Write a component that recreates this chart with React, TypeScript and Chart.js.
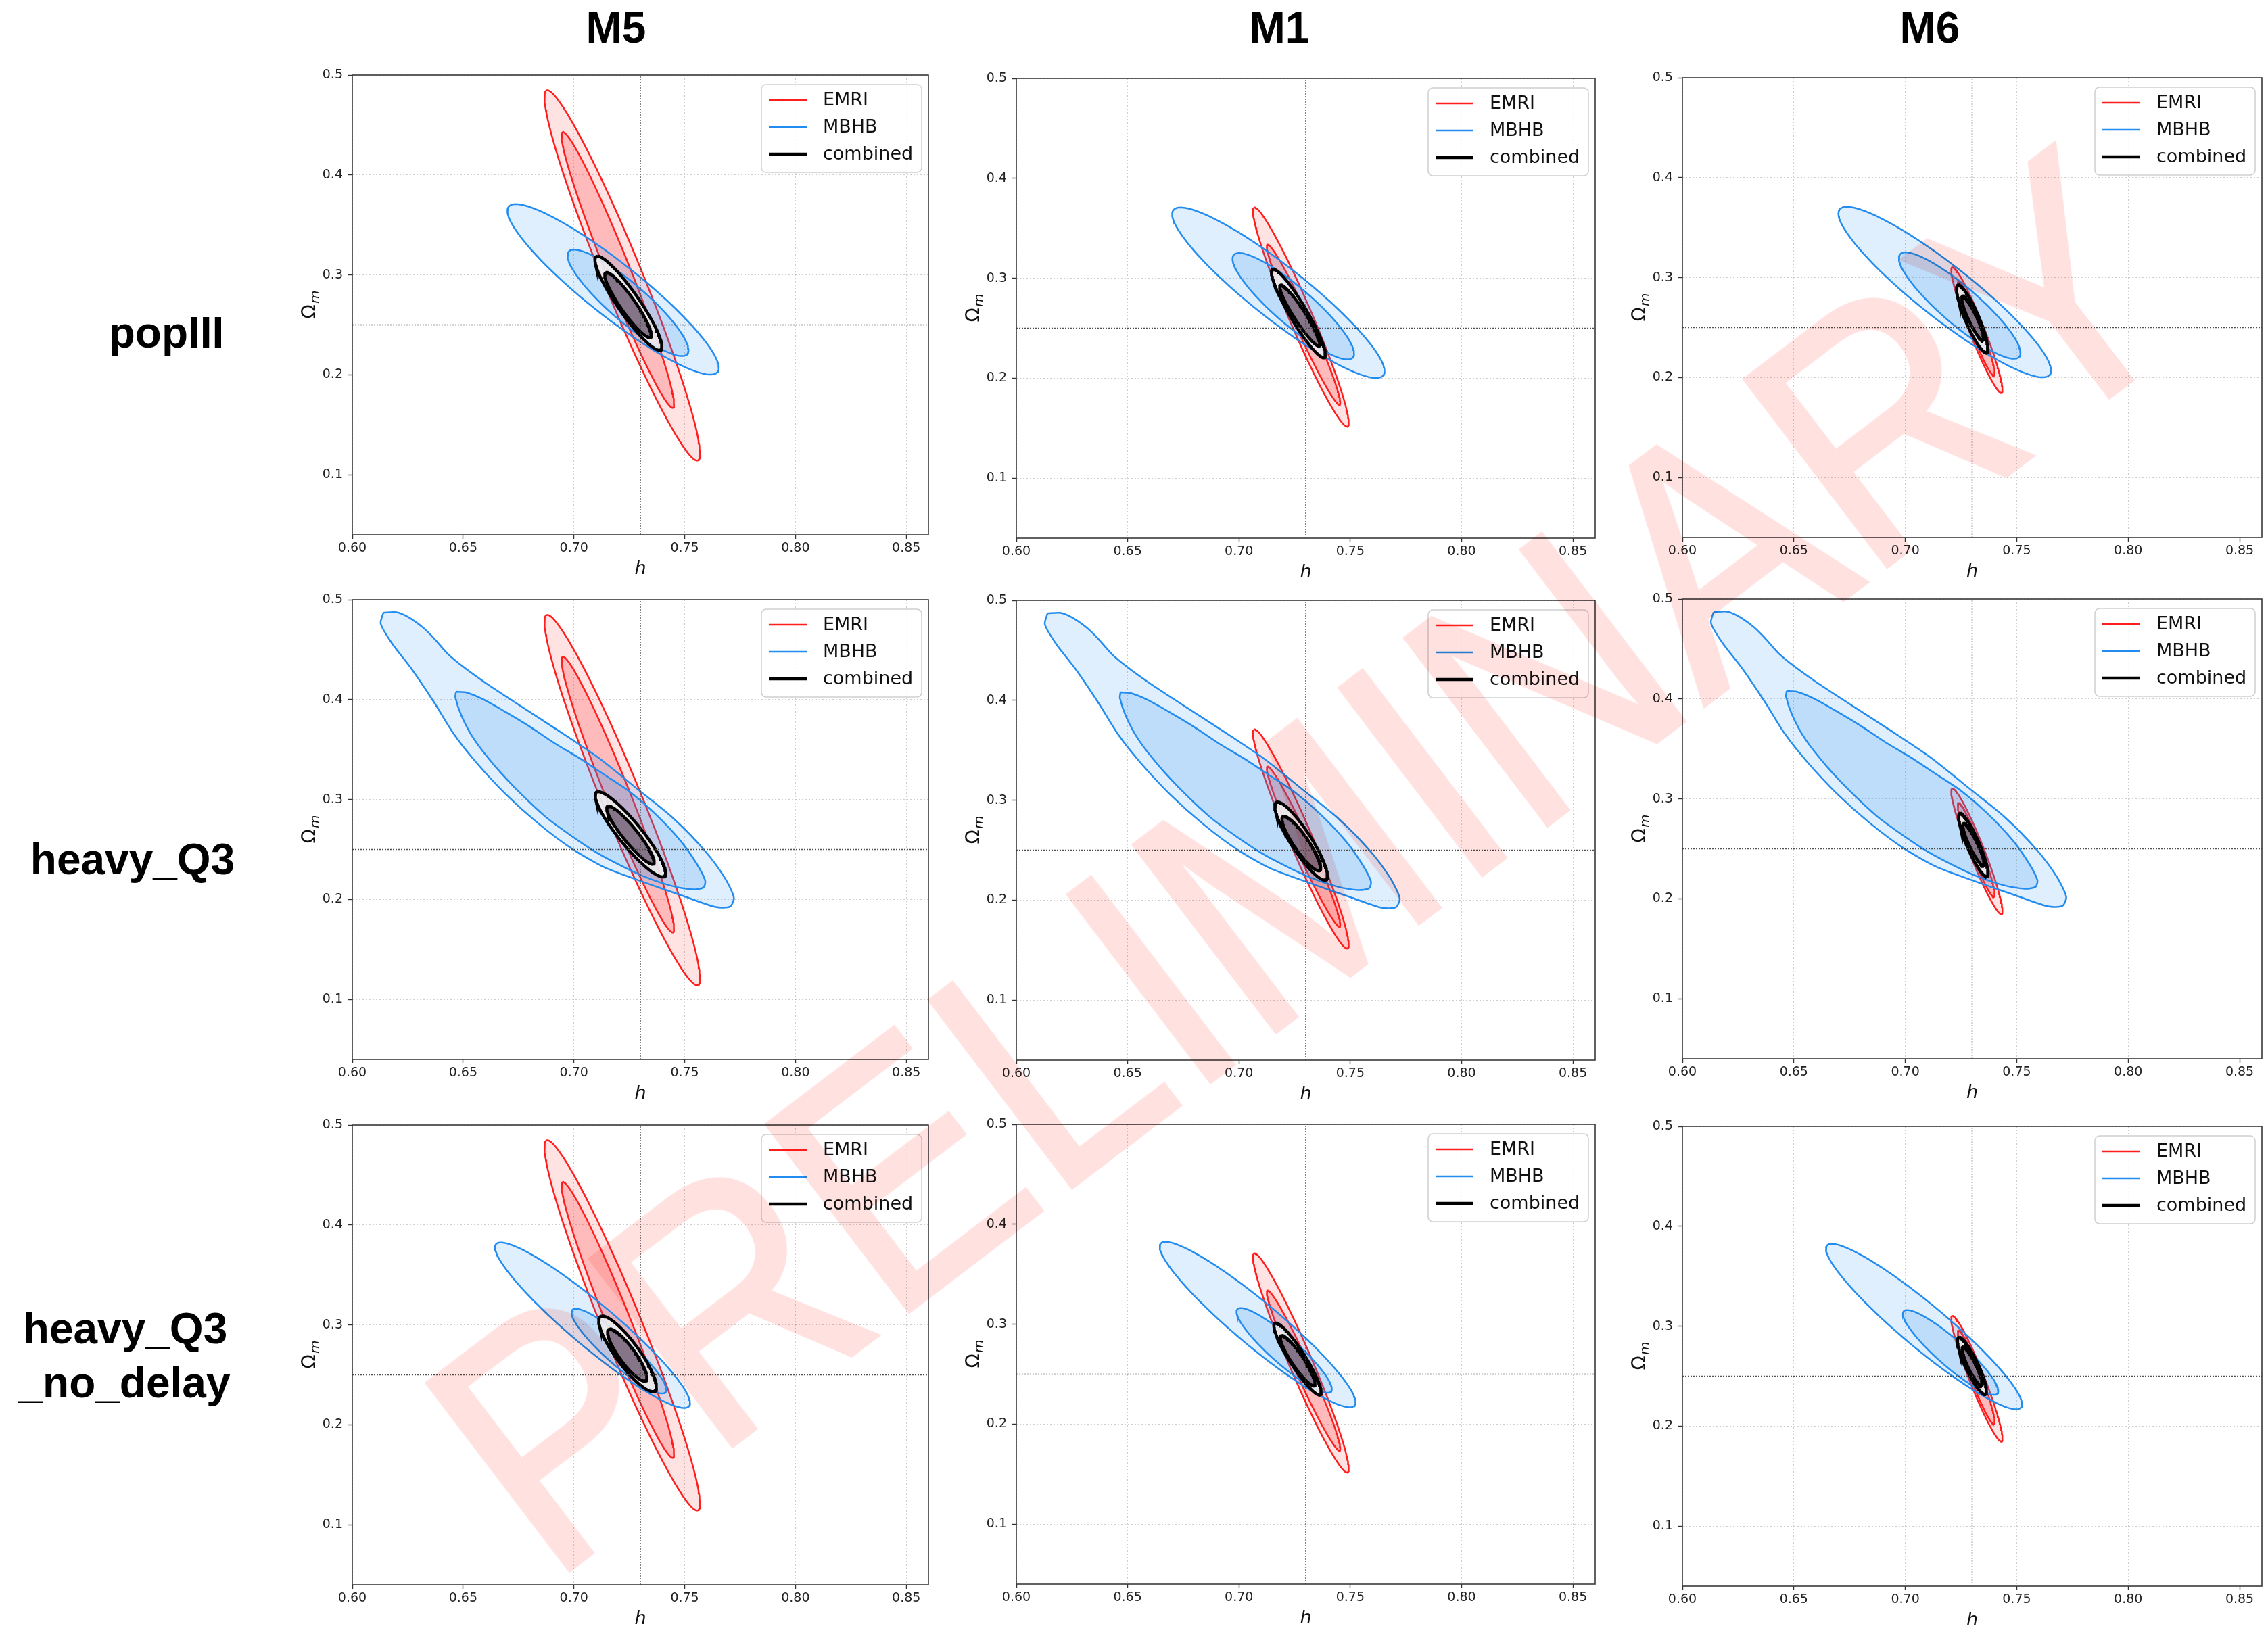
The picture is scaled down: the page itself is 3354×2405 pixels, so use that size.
import React, { useEffect, useRef } from "react";
import { Chart, registerables } from "chart.js";

Chart.register(...registerables);
Chart.defaults.font.family = '"DejaVu Sans", sans-serif';

// ---------- texts ----------
const COLUMN_TITLES = ["M5", "M1", "M6"];
const ROW_TITLES = [["popIII"], ["heavy_Q3"], ["heavy_Q3", "_no_delay"]];
const LEGEND_LABELS = ["EMRI", "MBHB", "combined"];
const X_TITLE = "h";
const Y_TITLE_MAIN = "Ω";
const Y_TITLE_SUB = "m";
const WATERMARK = "PRELIMINARY";

// ---------- axes ----------
const H_TICKS = [0.6, 0.65, 0.7, 0.75, 0.8, 0.85];
const OM_TICKS = [0.1, 0.2, 0.3, 0.4, 0.5];
const H_MIN = 0.6;
const H_MAX = 0.86;
const OM_MIN = 0.04;
const OM_MAX = 0.5;
const H_FIDUCIAL = 0.73;
const OM_FIDUCIAL = 0.25;

// ---------- contours ----------
// ellipse contour: [h centre, Ωm centre, h half-extent, Ωm half-extent, correlation]
// EMRI contours by column model (M5, M1, M6)
const EMRI_OUTER = [
  [0.7218, 0.2995, 0.0351, 0.1853, -0.962],
  [0.7278, 0.2612, 0.0215, 0.1096, -0.965],
  [0.7321, 0.2476, 0.0115, 0.0629, -0.95],
];
const EMRI_INNER = [
  [0.7198, 0.305, 0.0254, 0.1379, -0.973],
  [0.729, 0.2536, 0.0165, 0.0801, -0.975],
  [0.7318, 0.249, 0.0083, 0.047, -0.95],
];

// MBHB contours by row model
const MBHB_POPIII_OUTER = [0.7177, 0.2856, 0.0477, 0.0853, -0.92];
const MBHB_POPIII_INNER = [0.7244, 0.2721, 0.0273, 0.0532, -0.89];
const MBHB_NODELAY_OUTER = [0.7084, 0.2997, 0.044, 0.0828, -0.94];
const MBHB_NODELAY_INNER = [0.7203, 0.2738, 0.0214, 0.0424, -0.91];
// heavy_Q3 MBHB contours are banana shaped: vertices
const MBHB_Q3_OUTER_H = [0.614, 0.62, 0.6256, 0.632, 0.637, 0.643, 0.65, 0.66, 0.675, 0.693, 0.711, 0.729, 0.745, 0.759, 0.768, 0.7722, 0.7705, 0.764, 0.75, 0.732, 0.714, 0.699, 0.684, 0.669, 0.656, 0.646, 0.637, 0.627, 0.618, 0.6128];
const MBHB_Q3_OUTER_OM = [0.487, 0.4875, 0.4822, 0.472, 0.461, 0.446, 0.433, 0.417, 0.395, 0.369, 0.342, 0.31, 0.281, 0.249, 0.222, 0.202, 0.193, 0.1925, 0.203, 0.217, 0.232, 0.251, 0.276, 0.306, 0.337, 0.365, 0.397, 0.43, 0.456, 0.476];
const MBHB_Q3_INNER_H = [0.6468, 0.6512, 0.6588, 0.6683, 0.6797, 0.691, 0.7024, 0.7138, 0.7252, 0.7366, 0.748, 0.7555, 0.7593, 0.7584, 0.7536, 0.7442, 0.7328, 0.7214, 0.71, 0.6986, 0.6873, 0.6759, 0.6645, 0.655, 0.6493, 0.6465];
const MBHB_Q3_INNER_OM = [0.408, 0.4073, 0.4006, 0.3888, 0.3736, 0.3568, 0.3416, 0.3248, 0.3079, 0.286, 0.2591, 0.2355, 0.2186, 0.2119, 0.2102, 0.2136, 0.222, 0.2338, 0.2473, 0.2641, 0.2826, 0.3062, 0.3332, 0.3602, 0.3837, 0.4023];

// combined contours [row][column]
const COMBINED_OUTER = [
  [[0.7246, 0.2717, 0.0151, 0.047, -0.92], [0.7267, 0.2649, 0.0121, 0.0442, -0.93], [0.73, 0.2589, 0.007, 0.0338, -0.88]],
  [[0.7255, 0.2653, 0.0159, 0.0426, -0.91], [0.7279, 0.2592, 0.0118, 0.039, -0.89], [0.7305, 0.254, 0.0066, 0.0316, -0.89]],
  [[0.7242, 0.2711, 0.013, 0.0378, -0.87], [0.7263, 0.2653, 0.0106, 0.0359, -0.92], [0.7299, 0.2604, 0.0065, 0.0285, -0.88]],
];
const COMBINED_INNER = [
  [[0.7244, 0.27, 0.0105, 0.0325, -0.92], [0.7273, 0.2629, 0.009, 0.0304, -0.94], [0.7302, 0.2596, 0.0049, 0.022, -0.9]],
  [[0.7255, 0.2645, 0.0107, 0.029, -0.92], [0.728, 0.2568, 0.0087, 0.0272, -0.89], [0.7306, 0.2545, 0.0048, 0.021, -0.9]],
  [[0.7241, 0.2698, 0.0089, 0.026, -0.87], [0.7264, 0.2636, 0.0078, 0.025, -0.91], [0.73, 0.2602, 0.0045, 0.0194, -0.89]],
];

// ---------- styles / layout ----------
const EMRI_STYLE = { line: "rgb(255,30,30)", width: 2.5, outer: "rgba(255,30,30,0.13)", inner: "rgba(255,30,30,0.2)" };
const MBHB_STYLE = { line: "rgb(35,140,240)", width: 2.5, outer: "rgba(35,140,240,0.14)", inner: "rgba(35,140,240,0.18)" };
const COMB_STYLE = { line: "#000000", width: 4.5, outer: "rgba(240,238,240,0.9)", inner: "rgba(118,98,120,0.86)" };
const LEGEND_STYLES = [EMRI_STYLE, MBHB_STYLE, COMB_STYLE];

const PANEL_LEFT = [521, 1503, 2488];
const PANEL_WIDTH = [852, 856, 857];
const PANEL_TOP = [
  [111, 116, 115],
  [887, 888, 886],
  [1664, 1663, 1666],
];
const PANEL_HEIGHT = 680;
const PAD_L = 130;
const PAD_R = 20;
const PAD_T = 20;
const PAD_B = 80;

const COLUMN_TITLE_POS = [[911, 41], [1892, 41], [2854, 41]];
const ROW_TITLE_POS = [[246, 492], [196, 1271], [185, 1965]];
const ROW_LINE_GAP = 80;

type Pt = { x: number; y: number };

function ellipse(p: number[]): Pt[] {
  const [cx, cy, ax, ay, rho] = p;
  const s = Math.sqrt(1 - rho * rho);
  const pts: Pt[] = [];
  const n = 200;
  for (let i = 0; i <= n; i++) {
    const t = (i / n) * 2 * Math.PI;
    pts.push({ x: cx + ax * Math.cos(t), y: cy + ay * (rho * Math.cos(t) + s * Math.sin(t)) });
  }
  return pts;
}

function polygon(hs: number[], oms: number[]): Pt[] {
  const pts = hs.map((h, i) => ({ x: h, y: oms[i] }));
  pts.push({ x: hs[0], y: oms[0] });
  return pts;
}

function mbhbContours(r: number): [Pt[], Pt[], number] {
  if (r === 0) return [ellipse(MBHB_POPIII_OUTER), ellipse(MBHB_POPIII_INNER), 0];
  if (r === 1) return [polygon(MBHB_Q3_OUTER_H, MBHB_Q3_OUTER_OM), polygon(MBHB_Q3_INNER_H, MBHB_Q3_INNER_OM), 0.25];
  return [ellipse(MBHB_NODELAY_OUTER), ellipse(MBHB_NODELAY_INNER), 0];
}

function buildDatasets(r: number, c: number) {
  const list: any[] = [];
  const add = (pts: Pt[], style: any, bg: string, tension = 0) => {
    list.push({
      data: pts,
      borderColor: style.line,
      borderWidth: style.width,
      backgroundColor: bg,
      fill: "shape",
      pointRadius: 0,
      tension,
    });
  };
  add(ellipse(EMRI_OUTER[c]), EMRI_STYLE, EMRI_STYLE.outer);
  add(ellipse(EMRI_INNER[c]), EMRI_STYLE, EMRI_STYLE.inner);
  const [mo, mi, tens] = mbhbContours(r);
  add(mo, MBHB_STYLE, MBHB_STYLE.outer, tens);
  add(mi, MBHB_STYLE, MBHB_STYLE.inner, tens);
  add(ellipse(COMBINED_OUTER[r][c]), COMB_STYLE, COMB_STYLE.outer);
  add(ellipse(COMBINED_INNER[r][c]), COMB_STYLE, COMB_STYLE.inner);
  const ref = (pts: Pt[]) =>
    list.push({
      data: pts,
      borderColor: "rgba(70,70,70,0.95)",
      borderWidth: 1.4,
      borderDash: [2, 2],
      fill: false,
      pointRadius: 0,
    });
  ref([{ x: H_FIDUCIAL, y: OM_MIN }, { x: H_FIDUCIAL, y: OM_MAX }]);
  ref([{ x: H_MIN, y: OM_FIDUCIAL }, { x: H_MAX, y: OM_FIDUCIAL }]);
  const n = list.length;
  list.forEach((d, i) => (d.order = n - i));
  return list;
}

const decorPlugin = {
  id: "decor",
  afterDraw(chart: any) {
    const { ctx, chartArea: a } = chart;
    ctx.save();
    // frame
    ctx.strokeStyle = "#3a3a3a";
    ctx.lineWidth = 1.6;
    ctx.strokeRect(a.left, a.top, a.right - a.left, a.bottom - a.top);
    // x title
    ctx.fillStyle = "#111";
    ctx.font = 'italic 27px "DejaVu Sans"';
    ctx.textAlign = "center";
    ctx.textBaseline = "alphabetic";
    ctx.fillText(X_TITLE, (a.left + a.right) / 2, a.bottom + 58);
    // y title
    ctx.save();
    ctx.translate(a.left - 65, (a.top + a.bottom) / 2);
    ctx.rotate(-Math.PI / 2);
    ctx.font = '28px "DejaVu Sans"';
    const w1 = ctx.measureText(Y_TITLE_MAIN).width;
    ctx.font = 'italic 20px "DejaVu Sans"';
    const w2 = ctx.measureText(Y_TITLE_SUB).width;
    const x0 = -(w1 + w2) / 2;
    ctx.textAlign = "left";
    ctx.font = '28px "DejaVu Sans"';
    ctx.fillText(Y_TITLE_MAIN, x0, 10);
    ctx.font = 'italic 20px "DejaVu Sans"';
    ctx.fillText(Y_TITLE_SUB, x0 + w1 + 1, 16);
    ctx.restore();
    // legend
    const bw = 237;
    const bh = 130;
    const bx = a.right - 10 - bw;
    const by = a.top + 14;
    const rad = 7;
    ctx.beginPath();
    ctx.moveTo(bx + rad, by);
    ctx.lineTo(bx + bw - rad, by);
    ctx.arcTo(bx + bw, by, bx + bw, by + rad, rad);
    ctx.lineTo(bx + bw, by + bh - rad);
    ctx.arcTo(bx + bw, by + bh, bx + bw - rad, by + bh, rad);
    ctx.lineTo(bx + rad, by + bh);
    ctx.arcTo(bx, by + bh, bx, by + bh - rad, rad);
    ctx.lineTo(bx, by + rad);
    ctx.arcTo(bx, by, bx + rad, by, rad);
    ctx.closePath();
    ctx.fillStyle = "rgba(255,255,255,0.85)";
    ctx.fill();
    ctx.strokeStyle = "#cfcfcf";
    ctx.lineWidth = 1.5;
    ctx.stroke();
    ctx.font = '27px "DejaVu Sans"';
    ctx.textBaseline = "middle";
    ctx.textAlign = "left";
    LEGEND_LABELS.forEach((lab, i) => {
      const y = by + 23 + i * 40;
      const st = LEGEND_STYLES[i];
      ctx.beginPath();
      ctx.moveTo(bx + 11, y);
      ctx.lineTo(bx + 67, y);
      ctx.strokeStyle = st.line;
      ctx.lineWidth = st.width;
      ctx.stroke();
      ctx.fillStyle = "#111";
      ctx.fillText(lab, bx + 91, y + 1);
    });
    ctx.restore();
  },
};

function Panel({ r, c }: { r: number; c: number }) {
  const ref = useRef<HTMLCanvasElement>(null);
  const w = PAD_L + PANEL_WIDTH[c] + PAD_R;
  const h = PAD_T + PANEL_HEIGHT + PAD_B;
  useEffect(() => {
    const canvas = ref.current as HTMLCanvasElement;
    const chart = new Chart(canvas, {
      type: "line",
      data: { datasets: buildDatasets(r, c) },
      options: {
        responsive: false,
        maintainAspectRatio: false,
        animation: false,
        events: [],
        layout: { padding: { left: 0, top: PAD_T, right: PAD_R, bottom: 0 } },
        plugins: { legend: { display: false }, tooltip: { enabled: false } },
        scales: {
          x: {
            type: "linear",
            min: H_MIN,
            max: H_MAX,
            afterBuildTicks: (s: any) => {
              s.ticks = H_TICKS.map((v) => ({ value: v }));
            },
            afterFit: (s: any) => {
              s.height = PAD_B;
            },
            ticks: {
              callback: (v: any) => Number(v).toFixed(2),
              font: { size: 19 },
              color: "#222",
              padding: 3,
              maxRotation: 0,
              minRotation: 0,
              autoSkip: false,
            },
            grid: { color: "rgba(165,165,165,0.55)", lineWidth: 1, tickLength: 6, tickColor: "#333", tickWidth: 1.4 },
            border: { display: false, dash: [2, 3] },
          },
          y: {
            type: "linear",
            min: OM_MIN,
            max: OM_MAX,
            afterBuildTicks: (s: any) => {
              s.ticks = OM_TICKS.map((v) => ({ value: v }));
            },
            afterFit: (s: any) => {
              s.width = PAD_L;
            },
            ticks: {
              callback: (v: any) => Number(v).toFixed(1),
              font: { size: 19 },
              color: "#222",
              padding: 8,
              autoSkip: false,
            },
            grid: { color: "rgba(165,165,165,0.55)", lineWidth: 1, tickLength: 6, tickColor: "#333", tickWidth: 1.4 },
            border: { display: false, dash: [2, 3] },
          },
        },
      } as any,
      plugins: [decorPlugin],
    });
    return () => chart.destroy();
  }, [r, c]);
  return (
    <canvas
      ref={ref}
      width={w}
      height={h}
      style={{ position: "absolute", left: PANEL_LEFT[c] - PAD_L, top: PANEL_TOP[r][c] - PAD_T, width: w, height: h }}
    />
  );
}

const boldText: React.CSSProperties = {
  position: "absolute",
  fontFamily: '"Liberation Sans", Arial, sans-serif',
  fontWeight: 700,
  fontSize: 64,
  lineHeight: 1,
  color: "#000",
  whiteSpace: "nowrap",
  transform: "translate(-50%, -50%)",
};

export default function App() {
  const panels: JSX.Element[] = [];
  for (let r = 0; r < 3; r++) for (let c = 0; c < 3; c++) panels.push(<Panel key={`${r}-${c}`} r={r} c={c} />);
  return (
    <div style={{ position: "absolute", left: 0, top: 0, width: 3354, height: 2405, overflow: "hidden", background: "#fff" }}>
      {panels}
      {COLUMN_TITLES.map((t, i) => (
        <div key={t} style={{ ...boldText, left: COLUMN_TITLE_POS[i][0], top: COLUMN_TITLE_POS[i][1] }}>
          {t}
        </div>
      ))}
      {ROW_TITLES.map((lines, i) =>
        lines.map((t, j) => (
          <div key={`${i}-${j}`} style={{ ...boldText, left: ROW_TITLE_POS[i][0] - j, top: ROW_TITLE_POS[i][1] + j * ROW_LINE_GAP }}>
            {t}
          </div>
        ))
      )}
      <div
        style={{
          position: "absolute",
          left: 1929,
          top: 1275,
          transform: "translate(-50%, -50%) rotate(-37.3deg) scaleX(0.9)",
          fontFamily: '"Liberation Sans", Arial, sans-serif',
          fontSize: 505,
          lineHeight: 1,
          color: "rgb(255,225,224)",
          WebkitTextStroke: "6px rgb(255,225,224)",
          mixBlendMode: "multiply",
          whiteSpace: "nowrap",
          pointerEvents: "none",
          zIndex: 10,
        } as React.CSSProperties}
      >
        {WATERMARK}
      </div>
    </div>
  );
}
